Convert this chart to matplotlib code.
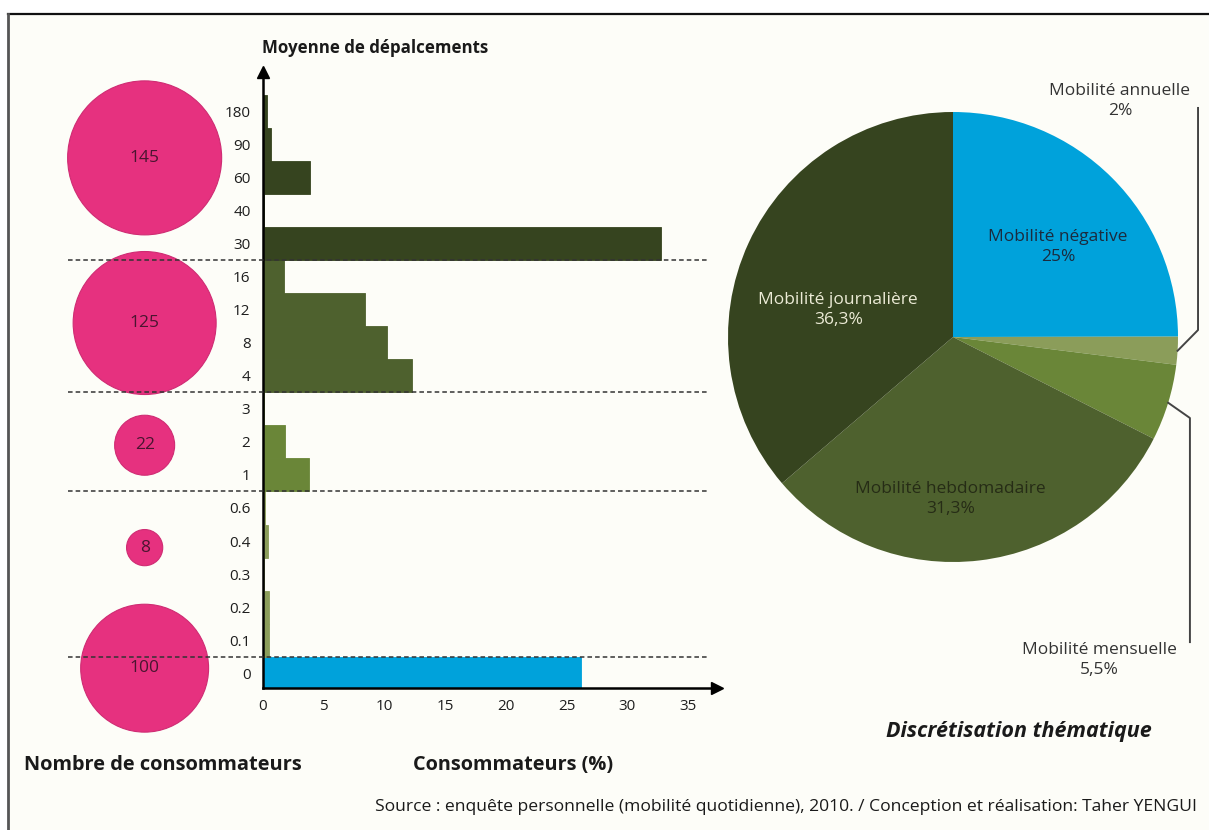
import matplotlib.pyplot as plt
import numpy as np
from matplotlib.patches import Rectangle
from matplotlib.lines import Line2D

plt.rcParams['font.family'] = ['Open Sans', 'DejaVu Sans']

# --- data ---------------------------------------------------------------
# classes of mean number of trips (y axis, bottom to top)
trip_classes = ['0', '0.1', '0.2', '0.3', '0.4', '0.6', '1', '2', '3',
                '4', '8', '12', '16', '30', '40', '60', '90', '180']
# share of consumers (%) in each class
consumers_pct = [26.2, 0.5, 0.5, 0.1, 0.4, 0.15, 3.8, 1.8, 0.1,
                 12.3, 10.2, 8.4, 1.7, 32.8, 0.1, 3.9, 0.7, 0.3]
# mobility group of each class (0 = negative ... 4 = daily)
trip_group = [0, 1, 1, 1, 1, 1, 2, 2, 2, 3, 3, 3, 3, 4, 4, 4, 4, 4]
# number of consumers per group
group_consumers = [100, 8, 22, 125, 145]

mobility_types = ['Mobilité négative', 'Mobilité annuelle', 'Mobilité mensuelle',
                  'Mobilité hebdomadaire', 'Mobilité journalière']
mobility_share = [25, 2, 5.5, 31.3, 36.3]
mobility_share_lbl = ['25%', '2%', '5,5%', '31,3%', '36,3%']

# --- style / layout -----------------------------------------------------
W, H = 1209, 830
BLUE = '#00a2db'
bar_colors = [BLUE, '#8b9d5a', '#6a8638', '#4e612e', '#36441f']
pie_colors = [BLUE, '#8b9d5a', '#6a8638', '#4e612e', '#36441f']
PINK = '#e6317f'
BUBBLE_ROWS = [0.15, 3.8, 6.9, 10.6, 15.6]   # vertical placement of the bubbles
BUBBLE_X = -9.75
LBL_FS = 12.5


def fx(px):
    return px / W


def fy(py):
    return 1 - py / H


fig = plt.figure(figsize=(W / 100, H / 100), dpi=100)
fig.patch.set_facecolor('white')

# frame
fig.add_artist(Rectangle((fx(8), 0), 1 - fx(8), fy(14), transform=fig.transFigure,
                         facecolor='#fdfdf8', edgecolor='none', zorder=-5))
fig.add_artist(Line2D([fx(8), 1], [fy(14), fy(14)], color='#111', lw=1.6, zorder=-4))
fig.add_artist(Line2D([fx(8), fx(8)], [0, fy(14)], color='#555', lw=2, zorder=-4))

# --- bar chart ----------------------------------------------------------
ax = fig.add_axes([fx(263), fy(688), fx(717) - fx(263), fy(72) - fy(688)])
ax.set_facecolor('none')
ypos = np.arange(len(trip_classes))
cols = [bar_colors[g] for g in trip_group]
ax.barh(ypos, consumers_pct, height=1.0, color=cols, edgecolor=cols,
        linewidth=0.6, zorder=2)

ax.set_xlim(0, 37.4)
ax.set_ylim(-0.45, 18.2)
ax.set_xticks(np.arange(0, 36, 5))
ax.set_yticks(ypos, labels=trip_classes)
ax.tick_params(axis='both', length=0, labelsize=11, colors='#1e1e1e')
ax.tick_params(axis='y', pad=9)
ax.tick_params(axis='x', pad=8)
ax.spines[['top', 'right']].set_visible(False)
for s in ['left', 'bottom']:
    ax.spines[s].set_linewidth(1.8)
    ax.spines[s].set_color('black')
    ax.spines[s].set_zorder(5)
ax.plot(0, 1, marker='^', color='black', ms=8, transform=ax.transAxes, clip_on=False, zorder=6)
ax.plot(1, 0, marker='>', color='black', ms=8, transform=ax.transAxes, clip_on=False, zorder=6)

# dashed separators between groups
bounds = [i + 0.5 for i in range(len(trip_group) - 1) if trip_group[i] != trip_group[i + 1]]
ax.hlines(bounds, -16.1, 36.6, colors='#333', linestyles=(0, (3, 2)), lw=1.1,
          clip_on=False, zorder=7)

# bubbles (area proportional to number of consumers)
sizes = 84.8 * np.array(group_consumers)
ax.scatter([BUBBLE_X] * len(group_consumers), BUBBLE_ROWS, s=sizes, c=PINK,
           edgecolors='#cf2c73', linewidths=0.8, clip_on=False, zorder=4)
for n, r in zip(group_consumers, BUBBLE_ROWS):
    ax.text(BUBBLE_X, r, str(n), ha='center', va='center', fontsize=12.5,
            color='#4a1530', zorder=8, clip_on=False)

# --- pie chart ----------------------------------------------------------
R = 225
pax = fig.add_axes([fx(953 - R), fy(337 + R), fx(2 * R), 2 * R / H])
wedges, _ = pax.pie(mobility_share, colors=pie_colors, startangle=90,
                    counterclock=False, radius=1, wedgeprops=dict(linewidth=0))
pax.set_xlim(-1, 1)
pax.set_ylim(-1, 1)

inner = {0: ((0.467, 0.40), '#1b2b3e'),
         4: ((-0.51, 0.12), '#ecebd6'),
         3: ((-0.01, -0.72), '#262c16')}
for i, ((x, y), c) in inner.items():
    pax.text(x, y, f'{mobility_types[i]}\n{mobility_share_lbl[i]}', ha='center',
             va='center', fontsize=LBL_FS, color=c, linespacing=1.3)

# outer labels with leader lines
outer = {1: ((0.742, 1.05), (1.089, 0.031), 1.018),
         2: ((0.649, -1.436), (1.053, -0.36), -1.356)}
for i, (txt_xy, elbow, y_end) in outer.items():
    w = wedges[i]
    th = np.deg2rad((w.theta1 + w.theta2) / 2)
    pax.plot([np.cos(th), elbow[0], elbow[0]], [np.sin(th), elbow[1], y_end],
             color='#444', lw=1.4, clip_on=False)
    pax.text(*txt_xy, f'{mobility_types[i]}\n{mobility_share_lbl[i]}', ha='center',
             va='center', fontsize=LBL_FS, color='#333', linespacing=1.3)

# --- texts --------------------------------------------------------------
fig.text(fx(262), fy(48), 'Moyenne de dépalcements', fontsize=12.2, fontweight='bold',
         ha='left', va='center', color='#1a1a1a')
fig.text(fx(24), fy(765), 'Nombre de consommateurs', fontsize=14.4, fontweight='bold',
         ha='left', va='center', color='#1a1a1a')
fig.text(fx(413), fy(765), 'Consommateurs (%)', fontsize=14.3, fontweight='bold',
         ha='left', va='center', color='#1a1a1a')
fig.text(fx(1152), fy(731), 'Discrétisation thématique', fontsize=15.5, fontweight='bold',
         style='italic', ha='right', va='center', color='#1a1a1a')
fig.text(fx(1197), fy(807),
         'Source : enquête personnelle (mobilité quotidienne), 2010. / '
         'Conception et réalisation: Taher YENGUI',
         fontsize=12.6, ha='right', va='center', color='#1a1a1a')

fig.savefig('out.png', dpi=100)
